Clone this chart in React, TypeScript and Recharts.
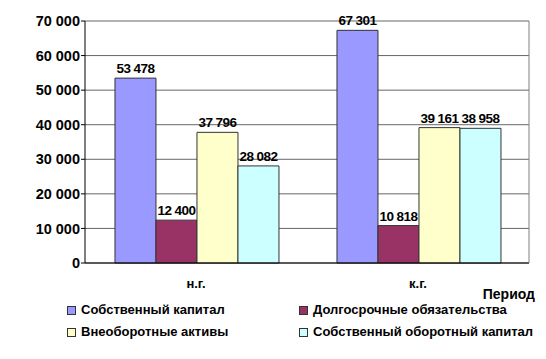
import React from "react";
import { BarChart, Bar, XAxis, YAxis, CartesianGrid, LabelList, Label } from "recharts";

const categories = ["н.г.", "к.г."];
const seriesNames = [
  "Собственный капитал",
  "Долгосрочные обязательства",
  "Внеоборотные активы",
  "Собственный оборотный капитал",
];
const ownCapital = [53478, 67301];
const longTermLiabilities = [12400, 10818];
const nonCurrentAssets = [37796, 39161];
const ownWorkingCapital = [28082, 38958];
const yTicks = [0, 10000, 20000, 30000, 40000, 50000, 60000, 70000];
const axisTitle = "Период";

const colors = ["#9999FF", "#993366", "#FFFFCC", "#CCFFFF"];
const keys = ["s0", "s1", "s2", "s3"];
const seriesValues = [ownCapital, longTermLiabilities, nonCurrentAssets, ownWorkingCapital];

const data = categories.map((c, i) => {
  const row: any = { name: c, pos: i + 0.5 };
  keys.forEach((k, j) => (row[k] = seriesValues[j][i]));
  return row;
});

const fmt = (v: any) => String(v).replace(/\B(?=(\d{3})+(?!\d))/g, " ");
const font = "Liberation Sans, Arial, sans-serif";

const boundaryTicks = Array.from({ length: categories.length + 1 }, (_, i) => i);

const ValueLabel = (props: any) => {
  const { x, y, width, value } = props;
  return (
    <text
      x={x + width / 2}
      y={y - 5}
      textAnchor="middle"
      fill="#000"
      fontSize={13.5}
      fontWeight="bold"
      fontFamily={font}
      letterSpacing={-0.6}
    >
      {fmt(value)}
    </text>
  );
};

export default function App() {
  return (
    <div style={{ position: "absolute", left: 0, top: 0, width: 546, height: 359, background: "#fff", fontFamily: font }}>
      <BarChart
        width={546}
        height={359}
        data={data}
        margin={{ top: 21, right: 17, left: 0, bottom: 66 }}
        barCategoryGap="13.5%"
        barGap={0}
        style={{ fontFamily: font }}
      >
        <CartesianGrid vertical={false} stroke="#666" strokeWidth={1} />
        <XAxis
          xAxisId="b"
          type="number"
          dataKey="pos"
          domain={[0, categories.length]}
          ticks={boundaryTicks}
          tickFormatter={() => ""}
          height={0}
          axisLine={false}
          tickLine={{ stroke: "#000" }}
          tickSize={4}
          allowDataOverflow
        />
        <XAxis
          dataKey="name"
          height={30}
          axisLine={{ stroke: "#000" }}
          tickLine={false}
          tickMargin={10}
          tick={{ fill: "#000", fontSize: 13, fontWeight: "bold", fontFamily: font }}
        >
          <Label
            value={axisTitle}
            position="insideBottomRight"
            offset={-6}
            style={{ fill: "#000", fontSize: 14, fontWeight: "bold", fontFamily: font }}
          />
        </XAxis>
        <YAxis
          width={85}
          domain={[0, 70000]}
          ticks={yTicks}
          tickFormatter={fmt}
          axisLine={{ stroke: "#000" }}
          tickLine={{ stroke: "#000" }}
          tickSize={4}
          tickMargin={1}
          tick={{ fill: "#000", fontSize: 14.5, fontWeight: "bold", fontFamily: font }}
        />
        {keys.map((k, j) => (
          <Bar key={k} dataKey={k} name={seriesNames[j]} fill={colors[j]} stroke="#333" strokeWidth={1} isAnimationActive={false}>
            <LabelList dataKey={k} content={ValueLabel} />
          </Bar>
        ))}
      </BarChart>
      <svg width={546} height={359} style={{ position: "absolute", left: 0, top: 0, pointerEvents: "none" }}>
        <line x1={529} y1={21} x2={529} y2={263} stroke="#808080" />
      </svg>
      {seriesNames.map((n, j) => (
        <div
          key={n}
          style={{
            position: "absolute",
            left: j % 2 === 0 ? 67 : 299,
            top: j < 2 ? 301 : 323,
            display: "flex",
            alignItems: "center",
            fontSize: 13,
            fontWeight: "bold",
            color: "#000",
            whiteSpace: "nowrap",
            lineHeight: "18px",
            fontFamily: font,
          }}
        >
          <span style={{ display: "inline-block", width: 7, height: 7, background: colors[j], border: "1px solid #333", marginRight: 5 }} />
          {n}
        </div>
      ))}
    </div>
  );
}
